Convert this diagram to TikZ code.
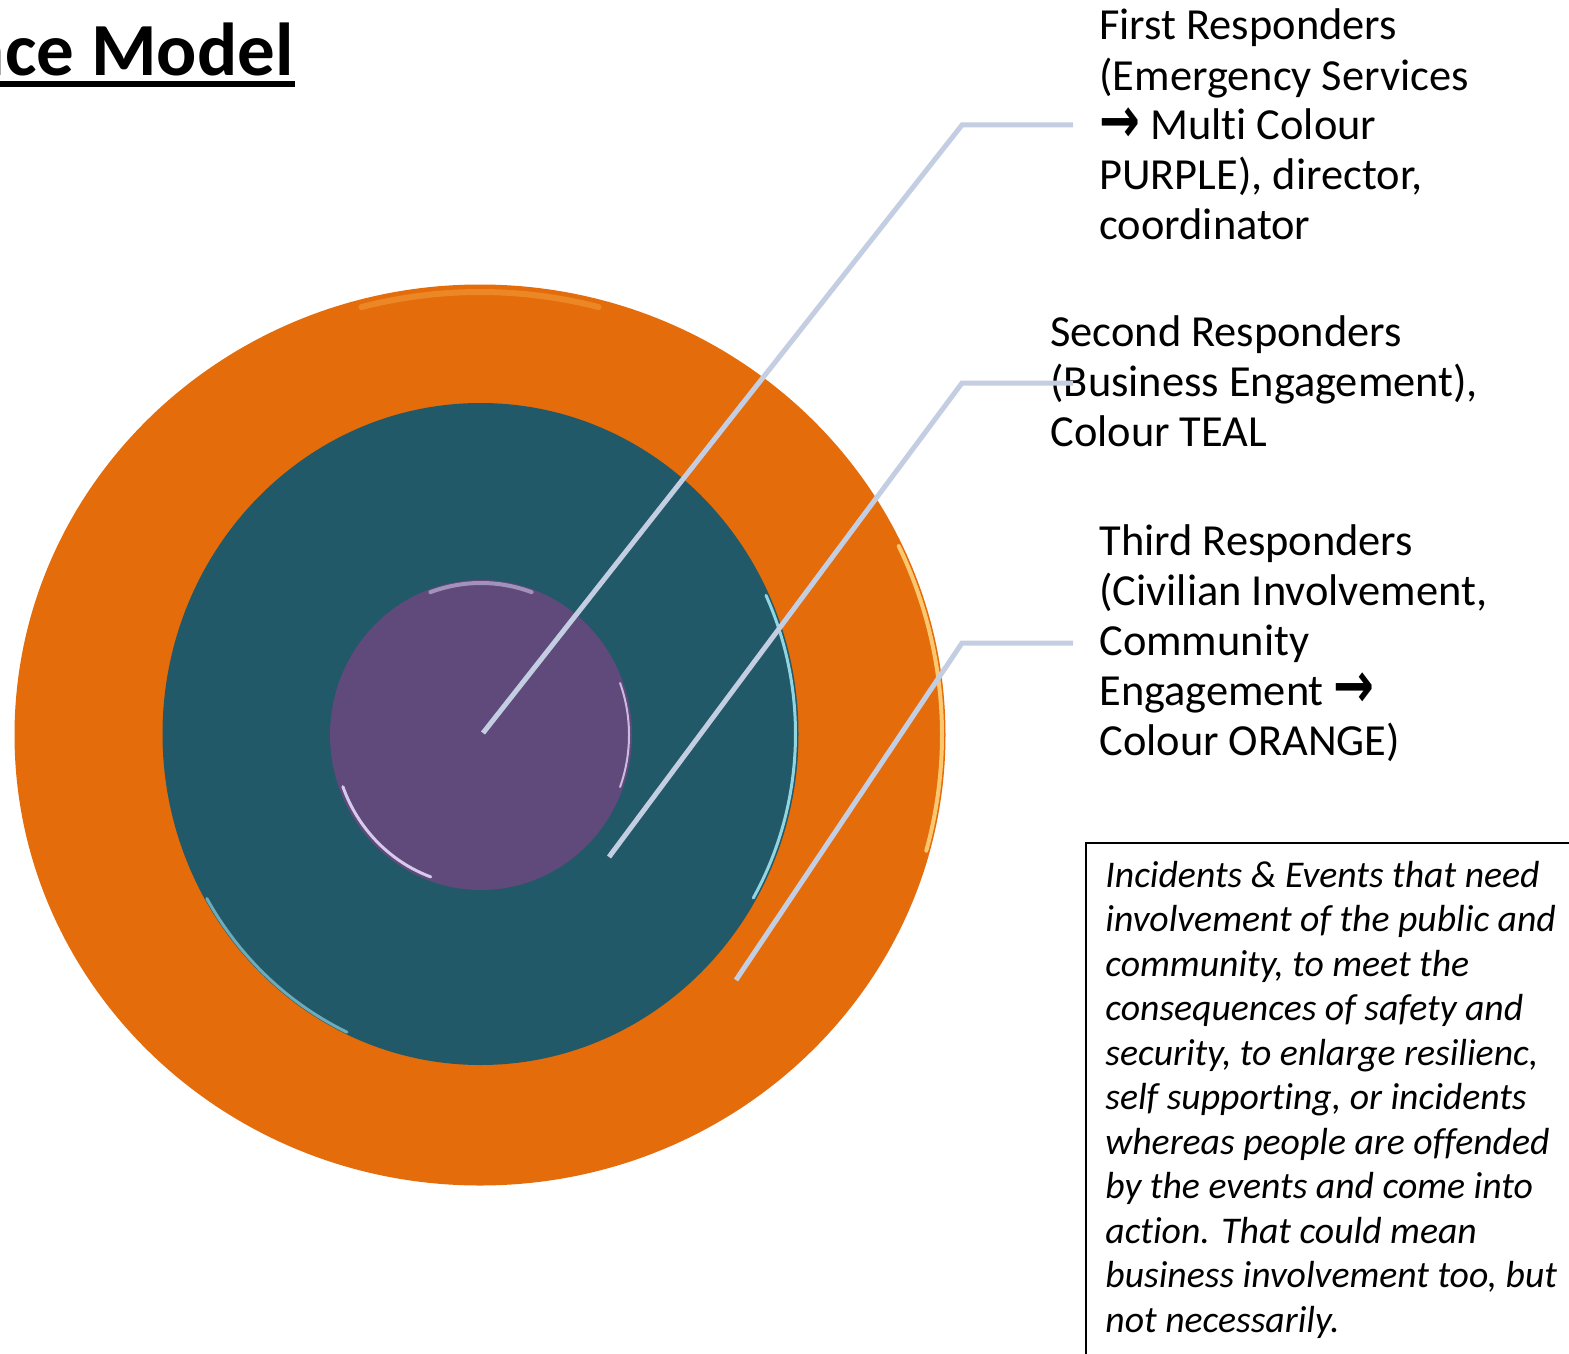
\documentclass[tikz,border=0pt]{standalone}
\usepackage{fontspec}
\usepackage{graphicx}
\setmainfont{Carlito}[Ligatures={NoCommon}]
\newfontfamily\arrowfont{DejaVu Sans}
\definecolor{orangec}{HTML}{E46C0A}
\definecolor{tealc}{HTML}{215968}
\definecolor{purplec}{HTML}{5F4A7B}
\definecolor{leader}{HTML}{C4CEE2}
\definecolor{orangehi}{HTML}{FFD27A}
\definecolor{orangetop}{HTML}{F29A3A}
\definecolor{tealhi}{HTML}{9FE3F0}
\definecolor{purplehi}{HTML}{E6D8FA}
\newcommand{\rarr}{\raisebox{-0.05em}{\scalebox{1.1}[1.45]{\arrowfont\bfseries →}}}
\begin{document}
\begin{tikzpicture}[x=0.5pt,y=-0.5pt,
  leaderline/.style={draw=leader, line width=2.5pt},
  lbl/.style={anchor=base west, inner sep=0pt},
  hilite/.style={line cap=round}]
\useasboundingbox (0,0) rectangle (1569,1354);
\fill[white] (0,0) rectangle (1569,1354);

% title
\node[anchor=base east, inner sep=0pt, font=\bfseries\fontsize{37.5pt}{45pt}\selectfont] (title) at (294,76) {nce Model};
\fill (0,81) rectangle (295,87);

% rings
\fill[orangec] (480,735) ellipse [x radius=465.5, y radius=450.5];
\draw[hilite, orangehi, line width=2pt, opacity=0.9] (480,735) ++(-25:462 and 447) arc[start angle=-25, end angle=15, x radius=462, y radius=447];
\draw[hilite, orangetop, line width=3pt, opacity=0.6] (480,735) ++(255:458 and 443) arc[start angle=255, end angle=285, x radius=458, y radius=443];
\fill[tealc] (480.5,734) ellipse [x radius=318, y radius=331];
\draw[hilite, tealhi, line width=1.5pt, opacity=0.9] (480.5,734) ++(-25:315 and 328) arc[start angle=-25, end angle=30, x radius=315, y radius=328];
\draw[hilite, tealhi, line width=1.5pt, opacity=0.6] (480.5,734) ++(115:316 and 329) arc[start angle=115, end angle=150, x radius=316, y radius=329];
\fill[purplec] (481,735) ellipse [x radius=151, y radius=155];
\draw[hilite, purplehi, line width=1.5pt, opacity=0.9] (481,735) ++(110:147 and 151) arc[start angle=110, end angle=160, x radius=147, y radius=151];
\draw[hilite, purplehi, line width=1pt, opacity=0.8] (481,735) ++(-20:148 and 152) arc[start angle=-20, end angle=20, x radius=148, y radius=152];
\draw[hilite, purplehi, line width=2pt, opacity=0.5] (481,735) ++(250:148 and 152) arc[start angle=250, end angle=290, x radius=148, y radius=152];

% leader coordinates
\coordinate (c1) at (483,733);
\coordinate (b1) at (962,125);
\coordinate (e1) at (1073,125);
\coordinate (c2) at (609,857);
\coordinate (b2) at (962,383);
\coordinate (e2) at (1073,383);
\coordinate (c3) at (736,980);
\coordinate (b3) at (962,643);
\coordinate (e3) at (1073,643);

% labels
\node[lbl] (first) at (1099,40) {\parbox[t]{400pt}{\fontsize{22.2pt}{25pt}\selectfont First Responders\\(Emergency Services\\\rarr{} Multi Colour\\PURPLE), director,\\coordinator}};
\node[lbl] (second) at (1050,346) {\parbox[t]{400pt}{\fontsize{22.2pt}{25pt}\selectfont Second Responders\\(Business Engagement),\\Colour TEAL}};
\node[lbl] (third) at (1099,555) {\parbox[t]{400pt}{\fontsize{22.2pt}{25pt}\selectfont Third Responders\\(Civilian Involvement,\\Community\\Engagement \rarr\\Colour ORANGE)}};

% leaders
\draw[leaderline] (c1) -- (b1) -- (e1);
\draw[leaderline] (c2) -- (b2) -- (e2);
\draw[leaderline] (c3) -- (b3) -- (e3);

% box
\node[draw, line width=1pt, anchor=north west, inner sep=0pt, minimum width=250pt, minimum height=265pt] (box) at (1085,842) {};
\node[lbl] (boxtext) at (1105,887) {\parbox[t]{300pt}{\itshape\fontsize{18.85pt}{22.25pt}\selectfont Incidents \& Events that need\\involvement of the public and\\community, to meet the\\consequences of safety and\\security, to enlarge resilienc,\\self supporting, or incidents\\whereas people are offended\\by the events and come into\\action. That could mean\\business involvement too, but\\not necessarily.}};
\end{tikzpicture}
\end{document}
